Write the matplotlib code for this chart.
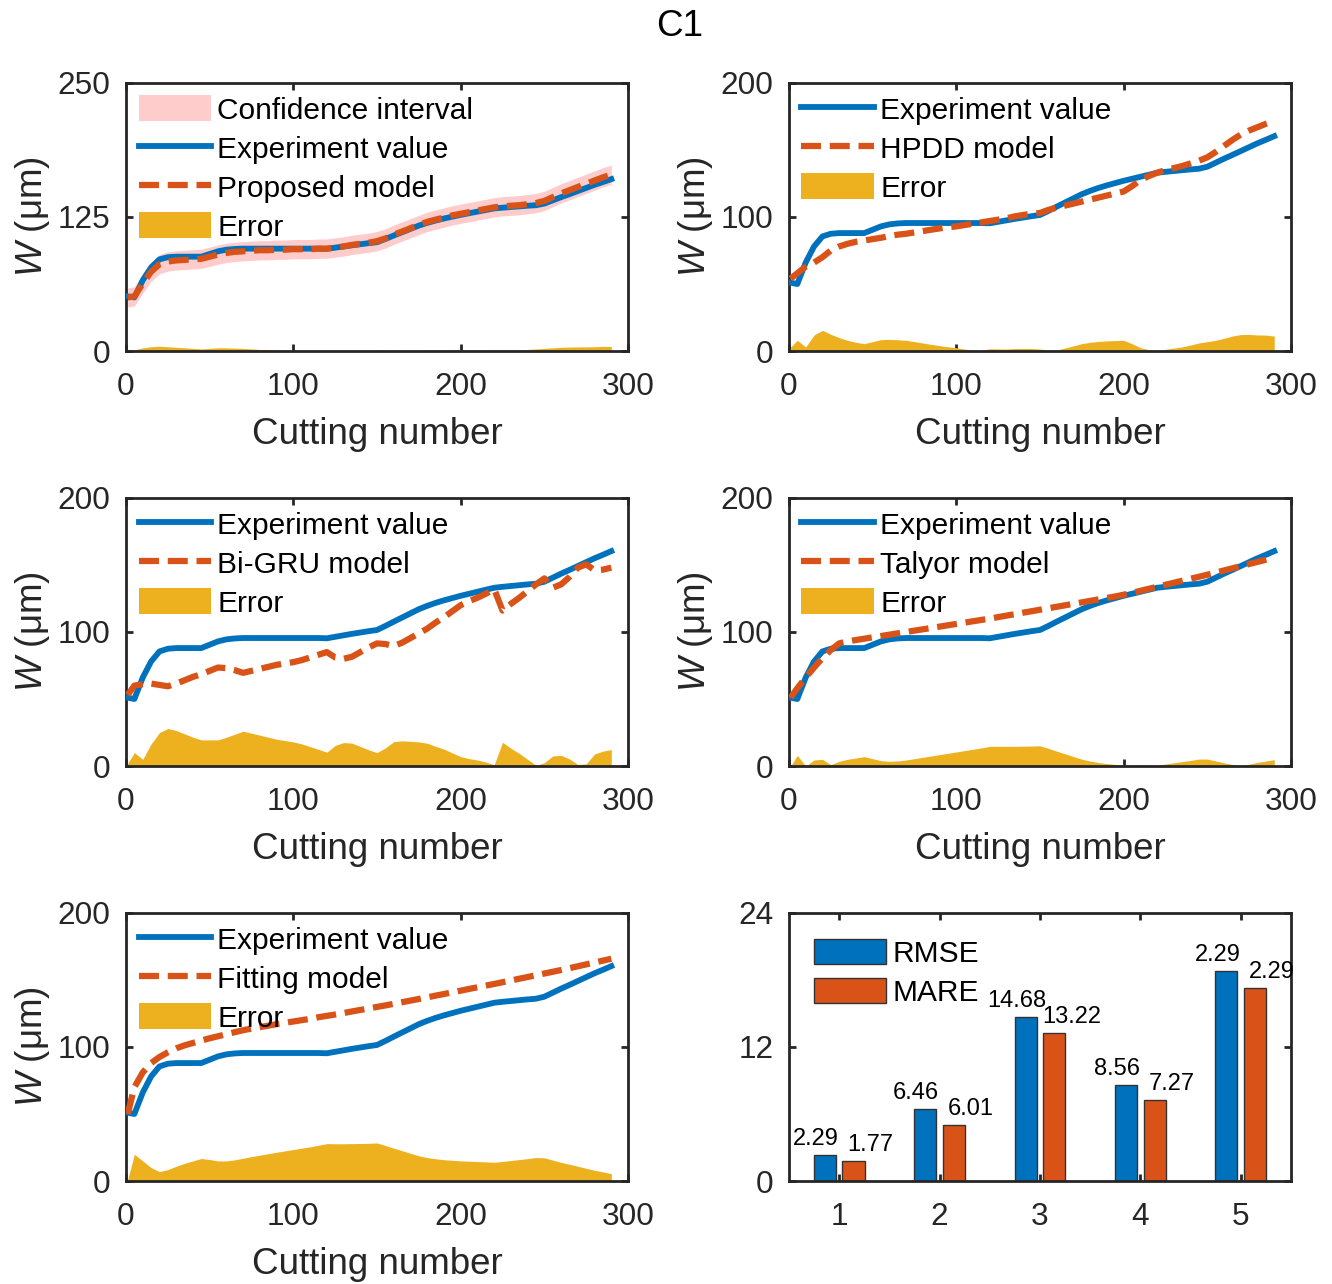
import matplotlib
matplotlib.use("Agg")
import numpy as np
import matplotlib.pyplot as plt

cuts = [1] + list(range(5, 291, 5))

experiment = [51, 50, 66, 78, 85.5, 87.5, 88, 88, 88, 88,
              90.5, 93, 94.5, 95.2, 95.5, 95.5, 95.5, 95.5, 95.5, 95.5,
              95.5, 95.5, 95.5, 95.5, 95.3, 96.4, 97.5, 98.6, 99.6, 100.6,
              101.5, 104.5, 107.7, 110.8, 113.9, 117, 119.5, 121.7, 123.6, 125.3,
              127, 128.5, 130, 131.5, 133, 133.7, 134.3, 134.9, 135.5, 136,
              137.5, 140.5, 143.5, 146.3, 149.2, 152.1, 155, 157.6, 160.3]

proposed = [50, 51, 63, 74, 81, 83.5, 84.5, 85, 85.5, 86,
            88, 90, 91.5, 92.5, 93, 93.5, 94, 94, 94.5, 94.5,
            95, 95, 95, 95.5, 95.5, 96.5, 97.5, 99, 100, 101,
            102.5, 105, 108.5, 111.5, 114.5, 117.5, 120.5, 122.5, 124.5, 126.5,
            128, 129.5, 131, 132.5, 134, 135, 135.5, 136, 137, 138,
            140, 143.5, 147, 150, 153, 156, 159, 162, 164.5]
ci_halfwidth = 9.0

hpdd = [54, 58, 63, 66, 70, 75, 78, 80, 81.5, 82.5,
        83.5, 84.5, 85.8, 86.8, 87.5, 88.5, 89.5, 90.5, 91.5, 92.3,
        93, 94, 95, 96, 97, 98, 99, 100.5, 101.5, 102.5,
        103, 105.3, 107, 108.5, 110, 111.5, 113, 114.5, 116, 117.5,
        119, 123, 127.5, 130.5, 133, 135, 136.5, 138, 140, 142,
        144.5, 148.5, 153, 157.5, 161.5, 164.5, 167, 169.5, 171.5]

bigru = [53, 60, 61, 61.5, 60.5, 59.5, 61.5, 64, 66.5, 68.5,
         71, 73.5, 73, 71.5, 69.5, 71, 72.5, 74, 75.5, 76.5,
         77.5, 79, 81, 83, 85, 81, 80, 81.5, 85, 88.5,
         91.5, 91, 89.5, 92, 95.5, 99, 102.5, 107, 111, 115.5,
         120, 123, 125.5, 128.5, 132, 116, 121, 125.5, 130.5, 135.5,
         140, 133, 135.5, 141, 148, 150.5, 146, 146.5, 148]

talyor = [51, 58, 66, 73.5, 80.5, 86.5, 91.5, 93, 94, 95,
          96, 97, 98, 99, 100, 101, 102, 103, 104, 105,
          106, 107, 108, 109, 110, 111.1, 112.2, 113.3, 114.4, 115.5,
          116.6, 117.7, 118.8, 119.9, 121, 122.1, 123.2, 124.3, 125.4, 126.5,
          127.8, 129.2, 130.7, 132.2, 133.7, 135.2, 136.7, 138.2, 139.7, 141.2,
          142.7, 144.3, 145.9, 147.5, 149.1, 150.7, 152.3, 153.9, 155.5]

fitting = [50, 70, 81, 88, 92.5, 96, 99, 101.2, 103, 104.8,
           106.5, 108, 109.5, 111, 112.5, 113.7, 114.8, 115.9, 117, 118,
           119, 120, 121, 122.2, 123.2, 124.2, 125.3, 126.5, 127.6, 128.7,
           129.9, 131, 132.2, 133.4, 134.6, 135.8, 137, 138.3, 139.5, 140.8,
           142, 143.3, 144.5, 145.8, 147, 148.3, 149.6, 150.9, 152.2, 153.5,
           154.8, 156.1, 157.4, 158.8, 160.2, 161.6, 163, 164.4, 165.8]

# bar panel
methods = [1, 2, 3, 4, 5]
rmse = [2.29, 6.46, 14.68, 8.56, 18.8]
mare = [1.77, 5.0, 13.22, 7.27, 17.3]
rmse_labels = ["2.29", "6.46", "14.68", "8.56", "2.29"]
mare_labels = ["1.77", "6.01", "13.22", "7.27", "2.29"]

BLUE = "#0072BD"
ORANGE = "#D95319"
YELLOW = "#EDB120"
PINK = "#FFCCCC"
AXC = "#262626"
FS = 21.5      # legend text
TICK_FS = 22.7
LABEL_FS = 26.5

plt.rcParams["font.family"] = ["Liberation Sans", "DejaVu Sans"]
plt.rcParams["mathtext.fontset"] = "custom"
plt.rcParams["mathtext.it"] = "Liberation Sans:italic"
plt.rcParams["mathtext.rm"] = "Liberation Sans"


def style(ax):
    for s in ax.spines.values():
        s.set_linewidth(2.0)
        s.set_color(AXC)
    ax.tick_params(direction="in", top=True, right=True, length=5, width=2.0,
                   labelsize=TICK_FS, colors=AXC)
    ax.tick_params(axis="x", pad=15)
    ax.tick_params(axis="y", pad=11)


def legend(ax, handles, labels, anchor=(0, 1)):
    ax.legend(handles, labels, loc="upper left", bbox_to_anchor=anchor,
              frameon=False, fontsize=FS, borderaxespad=0, borderpad=0.42,
              handlelength=2.43, handleheight=0.95, handletextpad=0.2,
              labelspacing=0.33)


def line_panel(ax, model, label, ylim, yticks, ci=False):
    x = np.array(cuts)
    exp = np.array(experiment)
    mod = np.array(model)
    err = np.abs(exp - mod)
    handles, labels = [], []
    if ci:
        band = ax.fill_between(x, mod - ci_halfwidth, mod + ci_halfwidth,
                               color=PINK, lw=0, zorder=1)
        handles.append(band)
        labels.append("Confidence interval")
    e = ax.fill_between(x, 0, err, color=YELLOW, lw=0, zorder=2)
    l1, = ax.plot(x, exp, color=BLUE, lw=4.2, zorder=3)
    l2, = ax.plot(x, mod, color=ORANGE, lw=4.5, ls=(0, (3.2, 1.4)), zorder=4)
    handles += [l1, l2, e]
    labels += ["Experiment value", label, "Error"]
    ax.set_xlim(0, 300)
    ax.set_ylim(*ylim)
    ax.set_xticks([0, 100, 200, 300])
    ax.set_yticks(yticks)
    ax.set_xlabel("Cutting number", fontsize=LABEL_FS, color=AXC, labelpad=11)
    ax.set_ylabel(r"$\mathit{W}$ (μm)", fontsize=LABEL_FS, color=AXC, labelpad=4)
    style(ax)
    legend(ax, handles, labels)


fig = plt.figure(figsize=(13.32, 12.84), dpi=100)
lefts = [0.0946, 0.5923]
bottoms = [0.7266, 0.4034, 0.0802]
w, h = 0.3769, 0.2088

ax1 = fig.add_axes([lefts[0], bottoms[0], w, h])
ax2 = fig.add_axes([lefts[1], bottoms[0], w, h])
ax3 = fig.add_axes([lefts[0], bottoms[1], w, h])
ax4 = fig.add_axes([lefts[1], bottoms[1], w, h])
ax5 = fig.add_axes([lefts[0], bottoms[2], w, h])
ax6 = fig.add_axes([lefts[1], bottoms[2], w, h])

line_panel(ax1, proposed, "Proposed model", (0, 250), [0, 125, 250], ci=True)
line_panel(ax2, hpdd, "HPDD model", (0, 200), [0, 100, 200])
line_panel(ax3, bigru, "Bi-GRU model", (0, 200), [0, 100, 200])
line_panel(ax4, talyor, "Talyor model", (0, 200), [0, 100, 200])
line_panel(ax5, fitting, "Fitting model", (0, 200), [0, 100, 200])

# bar chart of errors
pos = np.array(methods)
bw, off = 0.22, 0.143
b1 = ax6.bar(pos - off, rmse, bw, color=BLUE, edgecolor="#333333", lw=1.0)
b2 = ax6.bar(pos + off, mare, bw, color=ORANGE, edgecolor="#333333", lw=1.0)
for xi, hi, t in zip(pos - off, rmse, rmse_labels):
    ax6.annotate(t, (xi, hi), xytext=(-9, 5), textcoords="offset pixels",
                 ha="center", va="bottom", fontsize=17)
for xi, hi, t in zip(pos + off, mare, mare_labels):
    ax6.annotate(t, (xi, hi), xytext=(17, 5), textcoords="offset pixels",
                 ha="center", va="bottom", fontsize=17)
ax6.set_xlim(0.5, 5.5)
ax6.set_ylim(0, 24)
ax6.set_xticks(methods)
ax6.set_yticks([0, 12, 24])
style(ax6)
legend(ax6, [b1, b2], ["RMSE", "MARE"], anchor=(0.024, 0.951))

fig.text(0.5105, 0.979, "C1", ha="center", va="center", fontsize=26.5)

fig.savefig("out.png", dpi=100)
